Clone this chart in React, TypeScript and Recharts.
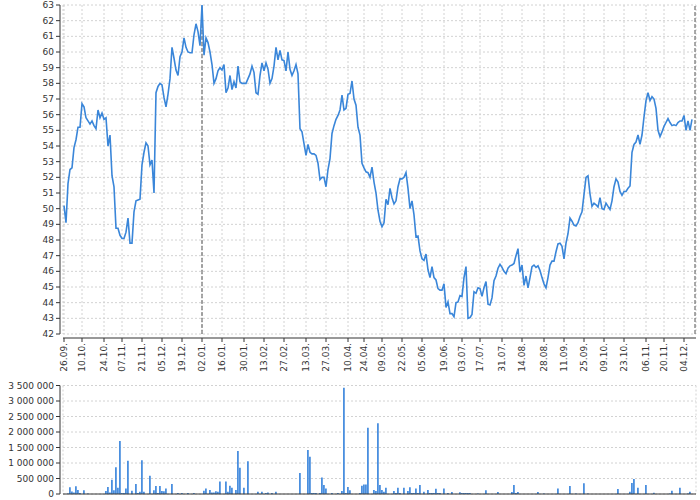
import { LineChart, Line, BarChart, Bar, XAxis, YAxis, CartesianGrid, ReferenceLine } from 'recharts'

// trading-day index of every date tick and its label
const tickIndex = [0, 9, 20, 29, 39, 49, 59, 69, 79, 90, 100, 110, 121, 131, 142, 150, 159, 169, 179, 190, 199, 208, 219, 229, 240, 250, 260, 270, 280, 291, 300, 310]
const tickLabels = [
  '26.09.', '10.10.', '24.10.', '07.11.', '21.11.', '05.12.', '19.12.', '02.01.', '16.01.', '30.01.', '13.02.',
  '27.02.', '13.03.', '27.03.', '10.04.', '24.04.', '09.05.', '22.05.', '05.06.', '19.06.', '03.07.', '17.07.',
  '31.07.', '14.08.', '28.08.', '11.09.', '25.09.', '09.10.', '23.10.', '06.11.', '20.11.', '04.12.'
]
const yearStart = 69
const lastDay = 315.5

const priceTicks = [42, 43, 44, 45, 46, 47, 48, 49, 50, 51, 52, 53, 54, 55, 56, 57, 58, 59, 60, 61, 62, 63]
const volumeTicks = [0, 500000, 1000000, 1500000, 2000000, 2500000, 3000000, 3500000]

// close price, one value per trading day
const prices = [
  50.2, 49.1, 51.6, 52.5, 52.6, 53.9, 54.4, 55.2, 55.2, 56.7,
  56.5, 55.8, 55.6, 55.4, 55.6, 55.3, 55.1, 56.3, 55.8, 56.1,
  55.7, 55.8, 54.0, 54.7, 52.1, 51.4, 48.75, 48.75, 48.3, 48.1,
  48.1, 48.5, 49.4, 47.8, 47.8, 49.8, 50.5, 50.55, 50.6, 52.8,
  53.6, 54.2, 54.0, 52.8, 53.1, 51.0, 57.4, 57.8, 58.0, 57.9,
  57.1, 56.5, 57.3, 58.3, 60.3, 59.6, 58.85, 58.5, 59.7, 60.0,
  60.9, 60.3, 60.0, 59.95, 59.95, 61.1, 61.8, 61.3, 60.4, 63.0,
  59.8, 60.9, 60.6, 60.0, 59.2, 58.0, 58.3, 58.8, 59.0, 58.85,
  59.2, 57.4, 57.7, 58.5, 57.6, 58.1, 57.7, 59.1, 58.1, 58.0,
  58.0, 58.0, 58.3, 58.6, 59.1, 58.7, 57.4, 57.3, 58.5, 59.3,
  58.8, 59.3, 58.9, 58.0, 58.3, 59.1, 60.3, 59.5, 60.1, 59.5,
  59.45, 58.8, 60.0, 58.9, 58.5, 58.8, 59.2, 58.6, 55.1, 54.9,
  54.15, 53.4, 54.1, 53.6, 53.5, 53.5, 53.4, 52.9, 51.85, 52.0,
  52.0, 51.4, 52.5, 53.2, 54.8, 55.3, 55.7, 55.95, 56.3, 57.25,
  56.3, 56.4, 57.3, 57.35, 58.15, 57.0, 56.6, 55.2, 54.7, 52.9,
  52.6, 52.35, 52.3, 52.0, 52.65, 51.7, 51.0, 49.9, 49.2, 48.85,
  49.1, 50.6, 50.25, 51.3, 50.7, 50.3, 50.5, 51.4, 51.9, 51.9,
  52.0, 52.3, 51.3, 50.0, 50.5, 49.6, 48.2, 48.25, 47.3, 46.8,
  46.7, 47.1, 46.1, 45.6, 46.3, 45.6, 45.45, 44.9, 44.8, 44.8,
  45.2, 43.7, 44.05, 43.3, 43.3, 43.1, 44.0, 44.05, 44.45, 44.4,
  45.6, 46.3, 43.0, 43.05, 43.25, 44.7, 44.6, 44.95, 44.9, 44.4,
  44.95, 45.35, 43.9, 43.85, 44.3, 45.4, 45.7, 46.2, 46.45, 46.25,
  46.0, 45.85, 46.2, 46.35, 46.4, 46.5, 47.0, 47.45, 45.95, 46.4,
  45.1, 45.7, 44.95, 45.6, 46.3, 46.4, 46.25, 46.35, 46.05, 45.6,
  45.2, 44.95, 45.6, 46.4, 46.65, 46.65, 47.25, 47.75, 47.8, 47.6,
  46.8, 47.8, 48.4, 49.4, 49.2, 48.95, 48.9, 49.1, 49.5, 49.8,
  50.9, 52.0, 52.1, 50.95, 50.15, 50.35, 50.25, 50.1, 50.7, 50.0,
  49.95, 50.35, 50.15, 49.95, 50.5, 51.4, 51.9, 51.7, 51.1, 50.85,
  51.1, 51.1, 51.3, 51.45, 53.6, 54.1, 54.25, 54.7, 54.1, 54.7,
  55.85, 56.9, 57.4, 56.9, 57.15, 57.0, 56.4, 55.0, 54.6, 54.9,
  55.25, 55.5, 55.75, 55.5, 55.3, 55.35, 55.3, 55.5, 55.6, 55.6,
  55.95, 55.0, 55.6, 55.0, 55.7
]

// traded volume in thousands, same days
const volumesK = [
  0, 0, 20, 215, 80, 50, 250, 130, 30, 0,
  120, 0, 20, 0, 0, 0, 0, 0, 0, 0,
  0, 100, 225, 50, 460, 120, 860, 200, 1710, 30,
  30, 180, 1070, 0, 105, 0, 320, 30, 75, 1090,
  75, 0, 0, 590, 0, 120, 260, 30, 260, 100,
  85, 180, 0, 0, 320, 0, 0, 30, 0, 30,
  0, 0, 30, 0, 0, 30, 0, 0, 0, 0,
  105, 180, 0, 130, 50, 50, 90, 75, 400, 0,
  0, 400, 75, 270, 205, 0, 130, 1390, 850, 0,
  205, 0, 1060, 0, 0, 0, 0, 75, 0, 75,
  0, 30, 50, 0, 30, 0, 75, 0, 0, 0,
  0, 0, 0, 0, 0, 0, 0, 0, 680, 0,
  0, 0, 1420, 1200, 30, 30, 30, 0, 30, 530,
  290, 180, 0, 0, 30, 0, 0, 30, 0, 100,
  3430, 30, 225, 120, 0, 0, 0, 0, 30, 270,
  310, 310, 2140, 0, 0, 130, 100, 2280, 290, 130,
  75, 205, 0, 0, 0, 100, 30, 205, 30, 0,
  205, 0, 100, 215, 30, 30, 180, 30, 290, 0,
  75, 0, 130, 30, 30, 30, 170, 30, 30, 0,
  180, 0, 30, 0, 65, 0, 0, 0, 55, 30,
  30, 30, 30, 30, 0, 0, 0, 20, 0, 0,
  0, 120, 0, 0, 0, 0, 0, 65, 0, 0,
  0, 0, 0, 0, 65, 290, 30, 65, 0, 0,
  0, 0, 0, 0, 0, 0, 0, 65, 0, 0,
  20, 0, 0, 0, 0, 0, 0, 180, 0, 0,
  0, 0, 0, 260, 0, 0, 20, 0, 0, 0,
  345, 0, 20, 0, 0, 0, 0, 0, 0, 0,
  0, 0, 0, 0, 0, 0, 0, 160, 0, 0,
  0, 0, 0, 75, 355, 485, 0, 205, 0, 0,
  0, 290, 0, 0, 0, 40, 0, 0, 0, 0,
  0, 0, 0, 20, 105, 0, 0, 0, 205, 0,
  0, 0, 20, 75, 0
]

const priceData = prices.map((price, i) => ({ i, price }))
const volumeData = volumesK.map((v, i) => ({ i, volume: v * 1000 }))

const FONT = '"DejaVu Sans", sans-serif'
const AXIS = '#333'
const TEXT = '#333'
const GRID = '#d2d2d2'
const BLUE = '#3a86d9'
const xDomain: [number, number] = [-0.5, 316]

// thousands separated by plain spaces: 3 500 000
const formatVolume = (v: number) => String(v).replace(/\B(?=(\d{3})+(?!\d))/g, ' ')

function DateTick({ x, y, payload }: any) {
  const label = tickLabels[tickIndex.indexOf(payload.value)]
  return (
    <g>
      <line x1={x} x2={x} y1={y + 4} y2={y + 8} stroke={AXIS} />
      <text
        transform={`translate(${x},${y + 9}) rotate(-90)`}
        textAnchor="end"
        dy="0.35em"
        fontSize={9}
        fontFamily={FONT}
        fill={TEXT}
      >
        {label}
      </text>
    </g>
  )
}

function ValueTick({ x, y, payload, fmt }: any) {
  return (
    <g>
      <line x1={x - 3} x2={x - 7} y1={y} y2={y} stroke={AXIS} />
      <text x={x - 9} y={y} dy="0.35em" textAnchor="end" fontSize={9} fontFamily={FONT} fill={TEXT}>
        {fmt ? fmt(payload.value) : payload.value}
      </text>
    </g>
  )
}

export default function App() {
  return (
    <div style={{ position: 'absolute', left: 0, top: 0, width: 700, height: 500, background: '#fff' }}>
      <LineChart width={700} height={380} data={priceData} margin={{ top: 5, right: 4, left: 0, bottom: 0 }}>
        <CartesianGrid stroke={GRID} strokeDasharray="2 2" />
        <XAxis
          dataKey="i"
          type="number"
          domain={xDomain}
          ticks={tickIndex}
          interval={0}
          height={46}
          tickSize={0}
          tickMargin={0}
          tickLine={false}
          axisLine={{ stroke: AXIS, transform: 'translate(0,4)' }}
          tick={<DateTick />}
          allowDataOverflow
        />
        <YAxis
          type="number"
          domain={[42, 63]}
          ticks={priceTicks}
          interval={0}
          width={63}
          tickSize={0}
          tickMargin={0}
          tickLine={false}
          axisLine={{ stroke: AXIS, transform: 'translate(-3,0)' }}
          tick={<ValueTick />}
          allowDataOverflow
        />
        <ReferenceLine x={yearStart} stroke="#555" strokeDasharray="4 2" />
        <ReferenceLine x={lastDay} stroke="#555" strokeDasharray="4 2" />
        <Line
          type="linear"
          dataKey="price"
          stroke={BLUE}
          strokeWidth={1.6}
          dot={false}
          activeDot={false}
          isAnimationActive={false}
        />
      </LineChart>

      <BarChart width={700} height={120} data={volumeData} margin={{ top: 5.5, right: 4, left: 0, bottom: 5 }}>
        <CartesianGrid stroke={GRID} strokeDasharray="2 2" />
        <XAxis
          dataKey="i"
          type="number"
          domain={xDomain}
          ticks={tickIndex}
          interval={0}
          height={1}
          tick={false}
          tickLine={false}
          axisLine={{ stroke: AXIS }}
          allowDataOverflow
        />
        <YAxis
          type="number"
          domain={[0, 3500000]}
          ticks={volumeTicks}
          interval={0}
          width={63}
          tickSize={0}
          tickMargin={0}
          tickLine={false}
          axisLine={{ stroke: AXIS, transform: 'translate(-3,0)' }}
          tick={<ValueTick fmt={formatVolume} />}
        />
        <Bar dataKey="volume" fill="#4a8fdf" barSize={2} isAnimationActive={false} />
      </BarChart>
    </div>
  )
}
